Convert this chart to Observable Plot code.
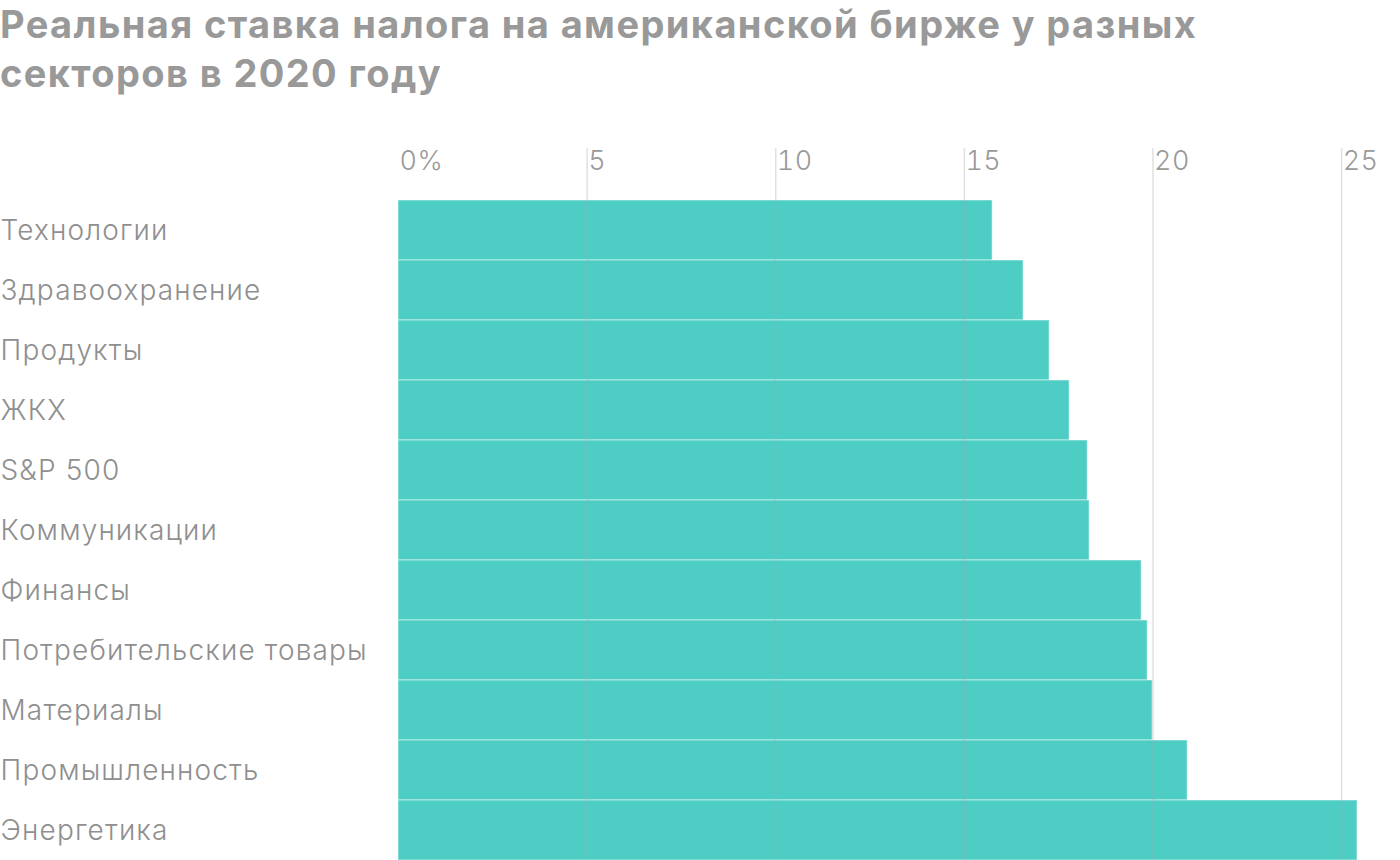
<!DOCTYPE html>
<html>
<head>
<meta charset="utf-8">
<script src="https://cdn.jsdelivr.net/npm/d3@7"></script>
<script src="https://cdn.jsdelivr.net/npm/@observablehq/plot@0.6"></script>
<style>
  html, body { margin: 0; padding: 0; background: #fff; }
  body { width: 1400px; height: 860px; overflow: hidden; font-family: Inter, sans-serif; }
  #title { margin: 0; padding: 0; height: 130px; box-sizing: border-box;
    font-family: Inter, sans-serif; font-weight: 700; font-size: 38px; line-height: 49px;
    color: #999999; letter-spacing: 1.4px; }
  #chart svg { display: block; }
  #chart svg g[aria-label="y-axis tick label"] text { letter-spacing: 1.15px; }
  #chart svg g[aria-label="x-axis tick label"] text { letter-spacing: 0.5px; }
</style>
</head>
<body>
<div id="title">Реальная ставка налога на американской бирже у разных<br>секторов в 2020 году</div>
<div id="chart"></div>
<script>
const sectors = ["Технологии", "Здравоохранение", "Продукты", "ЖКХ", "S&P 500", "Коммуникации", "Финансы", "Потребительские товары", "Материалы", "Промышленность", "Энергетика"];
const rates = [15.75, 16.57, 17.26, 17.79, 18.27, 18.32, 19.70, 19.86, 19.99, 20.92, 25.42];
const xTicks = [0, 5, 10, 15, 20, 25];
const gridTicks = [5, 10, 15, 20, 25];

const data = sectors.map((s, i) => ({sector: s, rate: rates[i]}));

const chart = Plot.plot({
  width: 1400,
  height: 730,
  marginLeft: 398,
  marginRight: 40,
  marginTop: 70,
  marginBottom: 0,
  style: {fontFamily: "Inter, sans-serif", fontWeight: 300, color: "#8f8f8f", background: "#fff"},
  x: {domain: [0, 25.5]},
  y: {domain: sectors, padding: 0},
  marks: [
    Plot.barX(data, {x: "rate", y: "sector", fill: "#4ecdc4", stroke: "#ffffff", strokeOpacity: 0.35, strokeWidth: 1.5}),
    Plot.ruleX(gridTicks, {x: d => d, stroke: "#a8a8a8", strokeOpacity: 0.35, strokeWidth: 1.5, insetTop: -52}),
    Plot.axisX(xTicks, {anchor: "top", tickSize: 0, tickPadding: 31, textAnchor: "start", dx: 1, fontSize: 27, fill: "#999999",
      tickFormat: d => d === 0 ? "0%" : String(d), label: null}),
    Plot.axisY({anchor: "left", tickSize: 0, tickPadding: 0, textAnchor: "start", dx: -398, dy: 1, fontSize: 28, fill: "#8f8f8f", label: null})
  ]
});
document.getElementById("chart").appendChild(chart);
</script>
</body>
</html>
